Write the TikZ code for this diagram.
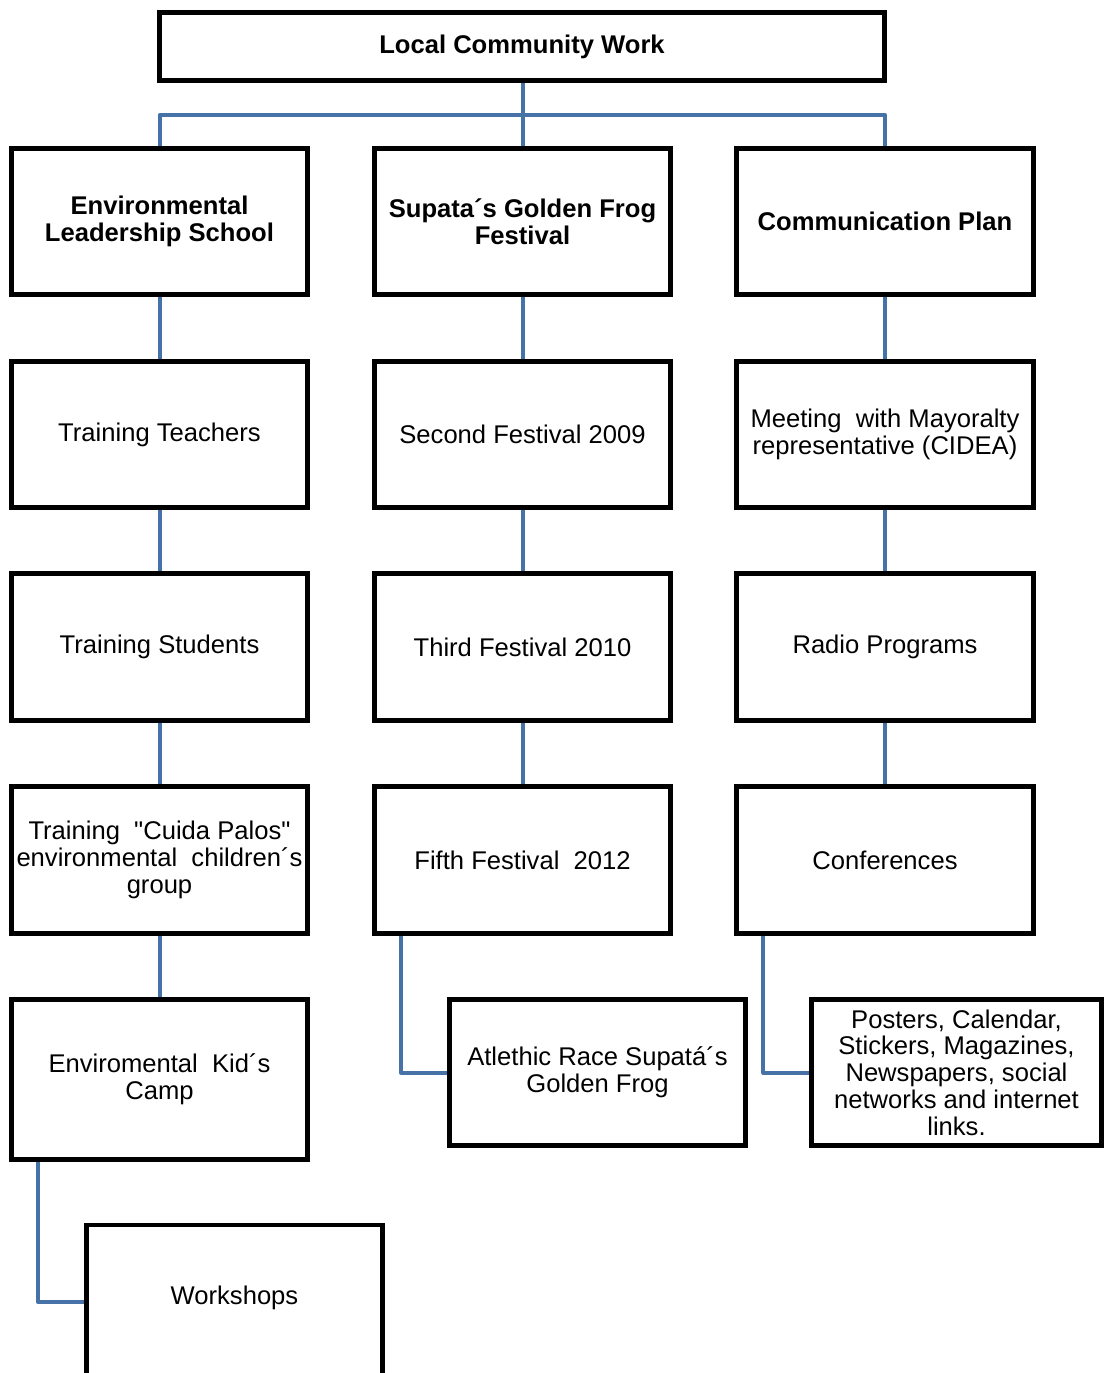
\documentclass[tikz,border=0pt]{standalone}
\usepackage{fontspec}
\setmainfont{Liberation Sans}[Ligatures=TeXOff]
\begin{document}
\begin{tikzpicture}[x=1pt,y=-1pt,
  box/.style={draw=black,line width=4.6pt,fill=white,rectangle,align=center,
    minimum width=296.5pt,minimum height=146.5pt,inner sep=0pt,
    font=\fontsize{25.6}{26.8}\selectfont},
  hbox/.style={box,font=\fontsize{25.6}{26.8}\selectfont\bfseries},
  conn/.style={draw={rgb,255:red,70;green,114;blue,168},line width=4pt,line join=round}]
\useasboundingbox (0,0) rectangle (1104,1373);
\fill[white] (0,0) rectangle (1104,1373);
% nodes
\node[hbox,minimum width=725.5pt,minimum height=68.5pt] (top) at (522,46.5) {Local Community Work};
\node[hbox] (c1r1) at (159.5,221.5) {Environmental\\Leadership School};
\node[hbox] (c2r1) at (522.5,221.5) {Supata´s Golden Frog\\Festival};
\node[hbox] (c3r1) at (885,221.5) {Communication Plan};
\node[box] (c1r2) at (159.5,434.5) {Training Teachers};
\node[box] (c2r2) at (522.5,434.5) {Second Festival 2009};
\node[box] (c3r2) at (885,434.5) {Meeting\ \ with Mayoralty\\representative (CIDEA)};
\node[box] (c1r3) at (159.5,647) {Training Students};
\node[box] (c2r3) at (522.5,647) {Third Festival 2010};
\node[box] (c3r3) at (885,647) {Radio Programs};
\node[box] (c1r4) at (159.5,860) {Training\ \ "Cuida Palos"\\environmental\ \ children´s\\group};
\node[box] (c2r4) at (522.5,860) {Fifth Festival\ \ 2012};
\node[box] (c3r4) at (885,860) {Conferences};
\node[box,minimum height=160.5pt] (c1r5) at (159.5,1079.5) {Enviromental\ \ Kid´s\\Camp};
\node[box] (atl) at (597.5,1072.5) {Atlethic Race Supatá´s\\Golden Frog};
\node[box,minimum width=290.5pt] (post) at (956.5,1072.5) {Posters, Calendar,\\Stickers, Magazines,\\Newspapers, social\\networks and internet\\links.};
\node[box,minimum height=154pt] (ws) at (234.5,1302) {};
\node[font=\fontsize{25.6}{26.8}\selectfont] (wst) at (234.5,1298) {Workshops};
% connectors
\coordinate (bus) at (522.5,115);
\draw[conn] (top.south -| bus) -- (bus);
\draw[conn] (c1r1.north) |- (bus) -| (c3r1.north);
\draw[conn] (bus) -- (c2r1.north);
\foreach \c in {c1,c2,c3}{
  \draw[conn] (\c r1.south) -- (\c r2.north);
  \draw[conn] (\c r2.south) -- (\c r3.north);
  \draw[conn] (\c r3.south) -- (\c r4.north);
}
\draw[conn] (c1r4.south) -- (c1r5.north);
\draw[conn] ([xshift=29pt]c1r5.south west) |- (ws.west);
\draw[conn] ([xshift=29pt]c2r4.south west) |- (atl.west);
\draw[conn] ([xshift=29pt]c3r4.south west) |- (post.west);
\end{tikzpicture}
\end{document}
